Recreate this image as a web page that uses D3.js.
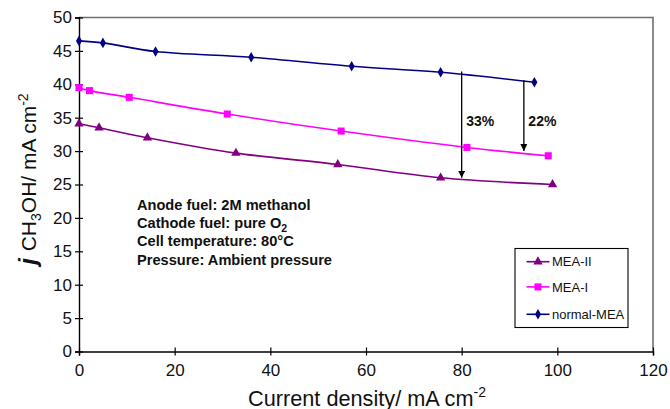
<!DOCTYPE html>
<html>
<head>
<meta charset="utf-8">
<script src="https://cdn.jsdelivr.net/npm/d3@7"></script>
<style>
  html, body { margin: 0; padding: 0; background: #fff; }
  svg { display: block; font-family: "Liberation Sans", Arial, sans-serif; }
</style>
</head>
<body>
<svg id="chart" width="670" height="409"></svg>
<script>
// ---- data ----
const normalX = [0, 5, 16, 36, 57, 75.6, 95.2];
const normalY = [46.5, 46.2, 44.9, 44.05, 42.7, 41.8, 40.3];
const meaIX = [0, 2.2, 10.5, 31, 54.8, 81.1, 98.1];
const meaIY = [39.5, 39.05, 38.05, 35.55, 33.0, 30.55, 29.3];
const meaIIX = [0, 4.2, 14.3, 32.8, 54.1, 75.6, 99.0];
const meaIIY = [34.1, 33.5, 32.0, 29.7, 28.0, 26.0, 25.0];
const seriesNames = ["MEA-II", "MEA-I", "normal-MEA"];
const xTicks = [0, 20, 40, 60, 80, 100, 120];
const yTicks = [0, 5, 10, 15, 20, 25, 30, 35, 40, 45, 50];
const arrowX = [80, 93];
const arrowFrom = [41.9, 40.6];
const arrowTo = [26.0, 30.0];
const arrowLabels = ["33%", "22%"];
const noteLines = ["Anode fuel: 2M methanol", "Cathode fuel: pure O", "Cell temperature: 80°C", "Pressure: Ambient pressure"];

const svg = d3.select("#chart");
const L = 79, R = 653, T = 17.5, B = 351.5;
const x = d3.scaleLinear().domain([0, 120]).range([L, R]);
const y = d3.scaleLinear().domain([0, 50]).range([B, T]);

// frame (top and right)
svg.append("path")
  .attr("d", `M${L},${T}H${R}V${B}`)
  .attr("fill", "none").attr("stroke", "#6e6e6e").attr("stroke-width", 1.6);

// axes
const xAxis = svg.append("g").attr("transform", `translate(0,${B})`)
  .call(d3.axisBottom(x).tickValues(xTicks).tickSize(4).tickPadding(8).tickFormat(d3.format("d")));
const yAxis = svg.append("g").attr("transform", `translate(${L},0)`)
  .call(d3.axisLeft(y).tickValues(yTicks).tickSize(4).tickPadding(3).tickFormat(d3.format("d")));
[xAxis, yAxis].forEach(g => {
  g.select(".domain").attr("stroke", "#000").attr("stroke-width", 1.4);
  g.selectAll(".tick line").attr("stroke", "#000").attr("stroke-width", 1.2);
  g.selectAll("text").attr("font-size", 17).attr("fill", "#111")
    .attr("font-family", '"Liberation Sans", Arial, sans-serif');
});
// ticks crossing axis
xAxis.selectAll(".tick").append("line").attr("y1", 0).attr("y2", -4).attr("stroke", "#000").attr("stroke-width", 1.2);
yAxis.selectAll(".tick").append("line").attr("x1", 0).attr("x2", 4).attr("stroke", "#000").attr("stroke-width", 1.2);

// series
const series = [
  {name: "MEA-II", xs: meaIIX, ys: meaIIY, color: "#800080", sym: d3.symbolTriangle, size: 38},
  {name: "MEA-I", xs: meaIX, ys: meaIY, color: "#ff00ff", sym: d3.symbolSquare, size: 50},
  {name: "normal-MEA", xs: normalX, ys: normalY, color: "#000080", sym: d3.symbolDiamond, size: 32},
];
const line = d3.line().x(d => x(d[0])).y(d => y(d[1])).curve(d3.curveCatmullRom.alpha(0.5));
series.forEach(s => {
  const pts = s.xs.map((v, i) => [v, s.ys[i]]);
  svg.append("path").datum(pts).attr("d", line)
    .attr("fill", "none").attr("stroke", s.color).attr("stroke-width", 1.6);
  svg.append("g").selectAll("path").data(pts).join("path")
    .attr("transform", d => `translate(${x(d[0])},${y(d[1])})`)
    .attr("d", d3.symbol().type(s.sym).size(s.size))
    .attr("fill", s.color);
});

// arrows
const defs = svg.append("defs");
defs.append("marker").attr("id", "ah").attr("viewBox", "0 0 10 10")
  .attr("refX", 10).attr("refY", 5).attr("markerWidth", 7).attr("markerHeight", 7)
  .attr("markerUnits", "userSpaceOnUse").attr("orient", "auto")
  .append("path").attr("d", "M0,0L10,5L0,10Z").attr("fill", "#000");
arrowX.forEach((ax, i) => {
  svg.append("line")
    .attr("x1", x(ax)).attr("x2", x(ax))
    .attr("y1", y(arrowFrom[i])).attr("y2", y(arrowTo[i]))
    .attr("stroke", "#000").attr("stroke-width", 1.3).attr("marker-end", "url(#ah)");
  svg.append("text").attr("x", x(ax) + 4.5).attr("y", 125.5)
    .attr("font-size", 14).attr("font-weight", "bold").attr("fill", "#111")
    .text(arrowLabels[i]);
});

// notes
const notes = svg.append("g").attr("font-size", 14.6).attr("font-weight", "bold").attr("fill", "#111");
noteLines.forEach((t, i) => {
  const tx = notes.append("text").attr("x", 137).attr("y", 209.5 + i * 18.4).text(t);
  if (i === 1) tx.append("tspan").attr("font-size", 10.5).attr("dy", 4).text("2");
});

// legend
svg.append("rect").attr("x", 515).attr("y", 248.5).attr("width", 113).attr("height", 79)
  .attr("fill", "#fff").attr("stroke", "#000").attr("stroke-width", 1.1);
const legY = [261.7, 286.9, 314.3];
series.forEach((s, i) => {
  const g = svg.append("g").attr("transform", `translate(0,${legY[i]})`);
  g.append("line").attr("x1", 526.5).attr("x2", 549.5).attr("y1", 0).attr("y2", 0)
    .attr("stroke", s.color).attr("stroke-width", 1.6);
  g.append("path").attr("transform", "translate(538,0)")
    .attr("d", d3.symbol().type(s.sym).size(s.size)).attr("fill", s.color);
  g.append("text").attr("x", 552).attr("y", 4.6).attr("font-size", 13).attr("fill", "#111").text(s.name);
});

// x title
const xt = svg.append("text").attr("x", 367).attr("y", 405.5).attr("text-anchor", "middle")
  .attr("font-size", 21.7).attr("fill", "#111");
xt.append("tspan").text("Current density/ mA cm");
xt.append("tspan").attr("font-size", 14).attr("dy", -9).text("-2");

// y title
const yt = svg.append("text").attr("transform", "translate(36,179) rotate(-90)")
  .attr("text-anchor", "middle").attr("font-size", 21).attr("fill", "#111");
yt.append("tspan").attr("font-style", "italic").attr("font-weight", "bold").attr("font-size", 24).text("j ");
yt.append("tspan").text("CH");
yt.append("tspan").attr("font-size", 14).attr("dy", 5).text("3");
yt.append("tspan").attr("dy", -5).text("OH/ mA cm");
yt.append("tspan").attr("font-size", 14).attr("dy", -8).text("-2");
</script>
</body>
</html>
